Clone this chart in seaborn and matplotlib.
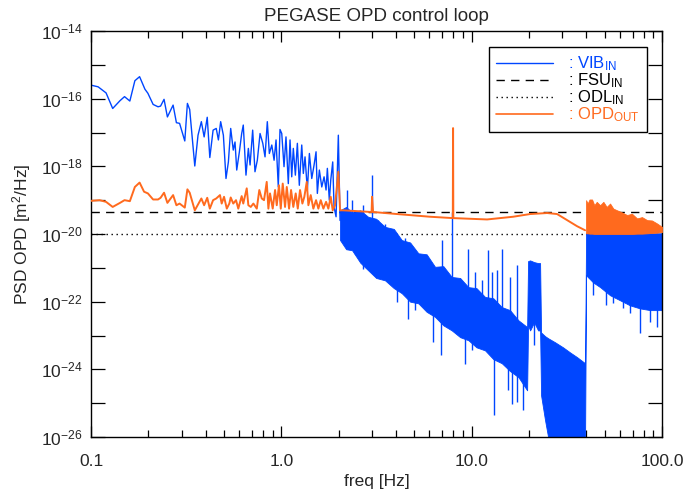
import numpy as np
import matplotlib
matplotlib.use("Agg")
import matplotlib.pyplot as plt
from matplotlib.lines import Line2D
from matplotlib.ticker import FixedLocator, FixedFormatter, NullFormatter
import seaborn as sns

BLUE = "#0046ff"
ORANGE = "#ff6a1e"

# ── data (freq in Hz, PSD as log10) ─────────────────────────────────────────
# VIB_IN, resolved part below 2 Hz
vib_freq = [0.100, 0.109, 0.120, 0.130, 0.142, 0.150, 0.160, 0.170, 0.180, 0.192,
            0.199, 0.212, 0.225, 0.232, 0.242, 0.252, 0.270, 0.281, 0.292, 0.311,
            0.321, 0.330, 0.351, 0.365, 0.380, 0.393, 0.408, 0.421, 0.438, 0.455,
            0.467, 0.480, 0.496, 0.512, 0.527, 0.542, 0.559, 0.571, 0.583, 0.602,
            0.619, 0.631, 0.652, 0.671, 0.685, 0.707, 0.727, 0.748, 0.773, 0.799,
            0.821, 0.844, 0.865, 0.891, 0.916, 0.938, 0.964, 0.984, 1.005, 1.033,
            1.058, 1.088, 1.111, 1.134, 1.156, 1.185, 1.214, 1.243, 1.280, 1.305,
            1.332, 1.370, 1.404, 1.445, 1.486, 1.522, 1.546, 1.584, 1.631, 1.677,
            1.718, 1.745, 1.787, 1.818, 1.862, 1.892, 1.939, 1.993, 2.035]
vib_log = [-15.60, -15.65, -15.83, -16.29, -16.06, -15.94, -16.07, -15.47, -15.35, -15.72,
           -15.84, -16.17, -16.24, -16.22, -16.02, -16.54, -16.19, -16.71, -16.73, -17.25,
           -16.14, -16.32, -17.99, -17.08, -16.68, -17.13, -16.55, -17.74, -16.93, -16.88,
           -17.22, -16.68, -17.08, -18.36, -17.87, -16.88, -17.52, -17.28, -18.11, -17.57,
           -17.03, -16.78, -18.26, -17.47, -17.96, -16.93, -18.16, -17.82, -17.03, -17.32,
           -17.72, -16.68, -17.62, -17.37, -17.82, -17.22, -18.61, -16.91, -17.03, -18.01,
           -17.13, -18.51, -17.22, -18.31, -17.47, -18.26, -17.32, -18.56, -17.37, -18.21,
           -17.72, -18.70, -17.62, -18.36, -17.96, -17.57, -18.80, -18.11, -18.61, -18.31,
           -18.70, -18.06, -19.00, -18.41, -17.87, -19.20, -19.49, -17.08, -19.60]

# VIB_IN above 2 Hz: dense band, upper / lower envelope (ragged edges)
band_freq = [2.035, 2.19, 2.353, 2.60, 2.856, 3.15, 3.508, 3.90, 4.293, 4.75,
             5.248, 5.80, 6.421, 7.10, 7.863, 8.70, 9.611, 10.60, 11.76, 13.00,
             14.40, 15.90, 17.60, 19.56, 19.79, 20.28, 21.28, 22.34, 22.88, 23.16,
             24.31, 25.21, 27.43, 30.22, 32.89, 35.80, 39.44, 39.92, 43.45, 47.30,
             53.36, 60.24, 67.98, 76.74, 86.61, 100.0]
band_top_log = [-19.30, -19.20, -19.36, -19.30, -19.49, -19.55, -19.79, -19.85, -20.18, -20.25,
                -20.57, -20.60, -20.97, -20.95, -21.27, -21.30, -21.57, -21.60, -21.86, -21.90,
                -22.16, -22.25, -22.55, -22.75, -20.80, -20.78, -20.83, -20.86, -20.86, -22.91,
                -23.02, -23.08, -23.20, -23.35, -23.50, -23.64, -23.82, -19.98, -19.98, -19.98,
                -19.98, -19.98, -19.98, -19.98, -19.98, -19.98]
band_bot_log = [-20.18, -20.45, -20.48, -20.85, -21.07, -21.30, -21.37, -21.60, -21.75, -22.00,
                -22.05, -22.30, -22.45, -22.70, -22.85, -23.05, -23.14, -23.35, -23.44, -23.70,
                -23.82, -24.05, -24.23, -24.62, -22.70, -22.85, -22.61, -22.85, -22.85, -24.77,
                -25.51, -26.00, -26.00, -26.00, -26.00, -26.00, -26.00, -21.22, -21.43, -21.57,
                -21.81, -21.96, -22.11, -22.20, -22.25, -22.25]

# single lines sticking out above the band
spike_freq = [2.215, 2.353, 2.689, 2.998, 3.235, 3.508, 4.120, 4.467, 5.423, 6.292,
              6.966, 7.919, 8.516, 9.611, 10.42, 11.30, 12.24, 12.76, 13.55, 14.40,
              15.92, 17.26]
spike_top_log = [-18.70, -19.00, -19.15, -18.26, -19.59, -19.69, -20.28, -20.13, -20.68, -21.07,
                 -20.18, -19.35, -21.37, -20.43, -21.12, -21.37, -20.48, -21.12, -21.07, -20.43,
                 -21.27, -20.92]
spike_base_log = [-19.60, -19.70, -19.80, -19.90, -20.00, -20.10, -20.60, -20.80, -21.00, -21.30,
                  -21.50, -21.60, -21.80, -22.00, -22.10, -22.20, -22.30, -22.40, -22.50, -22.60,
                  -22.80, -23.00]

# single lines sticking out below the band
dip_freq = [2.440, 2.690, 3.650, 4.042, 4.650, 5.042, 6.292, 6.908, 9.235, 10.01,
            13.17, 15.60, 16.25, 17.26, 18.70, 21.28, 43.45, 50.84, 55.34, 62.47,
            67.98, 76.74, 86.61, 94.25]
dip_top_log = [-20.10, -20.40, -21.00, -21.30, -21.60, -21.70, -22.00, -22.10, -22.70, -22.80,
               -23.10, -23.40, -23.50, -23.70, -23.90, -22.50, -20.78, -20.92, -21.00, -21.00,
               -21.00, -21.37, -21.00, -21.00]
dip_bot_log = [-20.58, -21.02, -21.27, -22.01, -22.50, -22.25, -23.19, -23.59, -23.83, -23.44,
               -25.36, -24.62, -25.01, -24.97, -25.21, -23.29, -21.81, -22.11, -22.05, -22.20,
               -22.34, -22.94, -22.61, -22.76]

# OPD_OUT line up to 40 Hz
opd_freq = [0.100, 0.111, 0.120, 0.130, 0.142, 0.150, 0.160, 0.170, 0.180, 0.190,
            0.199, 0.212, 0.225, 0.232, 0.242, 0.252, 0.270, 0.281, 0.292, 0.311,
            0.321, 0.330, 0.351, 0.380, 0.393, 0.408, 0.421, 0.438, 0.455, 0.476,
            0.486, 0.500, 0.517, 0.533, 0.542, 0.559, 0.578, 0.594, 0.619, 0.631,
            0.658, 0.671, 0.691, 0.713, 0.743, 0.766, 0.789, 0.811, 0.838, 0.855,
            0.872, 0.901, 0.927, 0.946, 0.972, 0.993, 1.017, 1.046, 1.068, 1.098,
            1.125, 1.156, 1.190, 1.220, 1.254, 1.290, 1.321, 1.360, 1.387, 1.427,
            1.473, 1.522, 1.565, 1.611, 1.663, 1.718, 1.766, 1.818, 1.862, 1.915,
            1.993, 2.035, 2.110, 2.98, 2.998, 3.034, 4.055, 6.045, 7.96, 7.985,
            8.01, 12.05, 16.51, 20.28, 24.91, 28.11, 31.72, 35.80, 39.44]
opd_log = [-19.02, -19.00, -19.05, -19.20, -19.08, -19.00, -19.03, -18.61, -18.48, -18.75,
           -18.80, -18.98, -18.98, -18.93, -18.78, -19.08, -18.85, -19.15, -19.10, -19.22,
           -18.68, -18.78, -19.30, -18.95, -19.15, -18.93, -19.25, -19.00, -18.95, -18.85,
           -19.10, -18.90, -19.25, -19.10, -18.92, -19.10, -19.00, -19.25, -18.88, -19.10,
           -18.65, -19.15, -19.20, -19.10, -19.25, -18.70, -18.95, -19.00, -18.46, -19.25,
           -18.80, -19.25, -18.70, -19.15, -18.56, -19.25, -18.51, -19.20, -18.61, -19.25,
           -18.70, -19.20, -18.80, -19.25, -18.70, -19.10, -18.90, -18.46, -19.15, -18.85,
           -19.25, -19.00, -19.25, -19.00, -19.25, -19.05, -19.25, -18.90, -19.30, -19.15,
           -18.16, -19.30, -19.30, -19.35, -18.90, -19.35, -19.41, -19.49, -19.53, -16.87,
           -19.53, -19.57, -19.49, -19.41, -19.38, -19.41, -19.59, -19.77, -19.89]

# OPD_OUT above 40 Hz: dense band
opd_band_freq = [39.92, 40.70, 41.60, 42.92, 44.10, 45.40, 47.30, 49.20, 51.20, 53.36,
                 55.50, 58.08, 61.00, 65.56, 69.50, 73.99, 78.50, 83.54, 88.50, 94.25,
                 100.0]
opd_band_top_log = [-19.00, -19.10, -18.98, -18.98, -19.15, -19.05, -19.15, -19.05, -19.20, -19.10,
                    -19.25, -19.30, -19.35, -19.44, -19.40, -19.54, -19.50, -19.59, -19.60, -19.69,
                    -19.79]
opd_band_bot_log = [-19.98, -19.98, -19.99, -19.99, -20.00, -20.00, -20.00, -20.00, -20.00, -20.00,
                    -20.00, -20.00, -20.00, -20.00, -20.00, -19.99, -19.99, -19.98, -19.97, -19.96,
                    -19.94]

FSU_LEVEL = 4.5e-20
ODL_LEVEL = 1.0e-20

x_ticks = [0.1, 1.0, 10.0, 100.0]
x_labels = ["0.1", "1.0", "10.0", "100.0"]
y_exps = list(range(-26, -13))


def p(v):
    return 10.0 ** np.asarray(v, dtype=float)


sns.set_theme(style="ticks")
plt.rcParams["font.family"] = ["Liberation Sans", "DejaVu Sans"]
plt.rcParams["mathtext.default"] = "regular"

fig = plt.figure(figsize=(6.86, 4.94), dpi=100)
ax = fig.add_axes([91 / 686, 1 - 437 / 494, 571 / 686, 406 / 494])
ax.set_xscale("log")
ax.set_yscale("log")

# reference levels
ax.axhline(FSU_LEVEL, color="black", lw=1.0, ls=(0, (6, 4.5)), zorder=1)
ax.axhline(ODL_LEVEL, color="black", lw=1.0, ls=(0, (1, 2.6)), zorder=1)

# VIB_IN
sns.lineplot(x=vib_freq, y=p(vib_log), ax=ax, color=BLUE, lw=1.0,
             estimator=None, sort=False, zorder=2)
ax.fill_between(band_freq, p(band_bot_log), p(band_top_log), color=BLUE,
                lw=0.6, edgecolor=BLUE, zorder=2)
ax.vlines(spike_freq, p(spike_base_log), p(spike_top_log), color=BLUE, lw=1.0, zorder=2)
ax.vlines(dip_freq, p(dip_bot_log), p(dip_top_log), color=BLUE, lw=1.0, zorder=2)

# OPD_OUT
sns.lineplot(x=opd_freq, y=p(opd_log), ax=ax, color=ORANGE, lw=1.4,
             estimator=None, sort=False, zorder=3)
ax.fill_between(opd_band_freq, p(opd_band_bot_log), p(opd_band_top_log),
                color=ORANGE, lw=0.6, edgecolor=ORANGE, zorder=3)

ax.set_xlim(0.1, 100)
ax.set_ylim(1e-26, 1e-14)

# ticks, IDL style (inward, on all four sides)
ax.xaxis.set_major_locator(FixedLocator(x_ticks))
ax.xaxis.set_major_formatter(FixedFormatter(x_labels))
minor_x = [m * d for d in (0.1, 1.0, 10.0) for m in range(2, 10)]
ax.xaxis.set_minor_locator(FixedLocator(minor_x))
ax.xaxis.set_minor_formatter(NullFormatter())
ax.yaxis.set_major_locator(FixedLocator([10.0 ** e for e in y_exps]))
ax.yaxis.set_major_formatter(FixedFormatter(
    ["10$^{%d}$" % e if e % 2 == 0 else "" for e in y_exps]))
ax.yaxis.set_minor_locator(FixedLocator([]))
ax.tick_params(which="both", direction="in", top=True, right=True, color="black",
               labelsize=12.5, width=0.9)
ax.tick_params(axis="x", which="major", length=8, pad=12)
ax.tick_params(axis="x", which="minor", length=5)
ax.tick_params(axis="y", which="major", length=10, pad=6)
for s in ax.spines.values():
    s.set_color("black")
    s.set_linewidth(1.0)

ax.set_title("PEGASE OPD control loop", fontsize=13.5, pad=7)
ax.set_xlabel("freq [Hz]", fontsize=12.5, labelpad=4)
ax.set_ylabel("PSD OPD [m$^{2}$/Hz]", fontsize=12.5, labelpad=6)

handles = [Line2D([], [], color=BLUE, lw=1.0),
           Line2D([], [], color="black", lw=1.0, ls=(0, (6, 4.5))),
           Line2D([], [], color="black", lw=1.0, ls=(0, (1, 2.6))),
           Line2D([], [], color=ORANGE, lw=1.2)]
labels = [": VIB$_{IN}$", ": FSU$_{IN}$", ": ODL$_{IN}$", ": OPD$_{OUT}$"]
leg = ax.legend(handles, labels, loc="upper right", bbox_to_anchor=(0.974, 0.961),
                fancybox=False, framealpha=1, edgecolor="black", fontsize=12,
                handlelength=3.4, handletextpad=0.9, labelspacing=-0.1,
                borderpad=0.45, borderaxespad=0)
leg.get_frame().set_linewidth(1.0)
for t, c in zip(leg.get_texts(), [BLUE, "black", "black", ORANGE]):
    t.set_color(c)

fig.savefig("out.png", dpi=100)
